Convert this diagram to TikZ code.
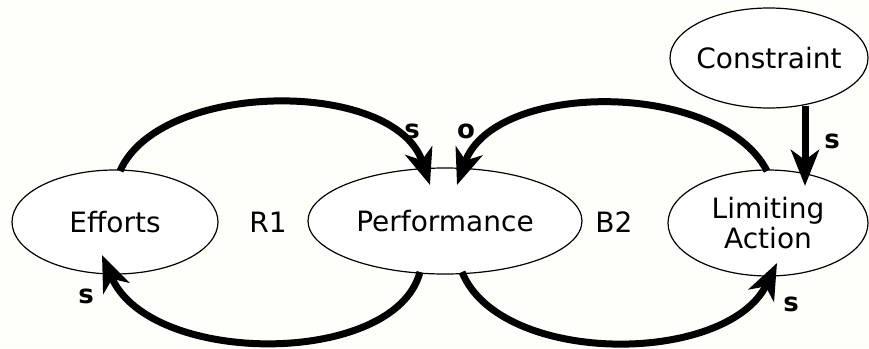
\documentclass[tikz,border=0pt]{standalone}
\usepackage{fontspec}
\setmainfont{DejaVu Sans}
\usetikzlibrary{shapes.geometric,arrows.meta,calc}
\definecolor{bgc}{HTML}{FEFEFB}
\begin{document}
\begin{tikzpicture}[x=1pt,y=-1pt,
  var/.style={draw=black,line width=1.2pt,fill=white,ellipse,inner sep=0pt},
  lbl/.style={font=\fontsize{28}{30}\selectfont},
  pol/.style={font=\fontsize{26}{28}\selectfont\bfseries},
  link/.style={line width=7pt,-{Stealth[length=36pt,width=28pt,inset=10pt]}}]
\fill[bgc] (0,0) rectangle (869,348);
\useasboundingbox (0,0) rectangle (869,348);
\node[var,minimum width=206pt,minimum height=104pt] (ef) at (115,222) {};
\node[lbl] at (ef.center) {Efforts};
\node[var,minimum width=274pt,minimum height=106pt] (pf) at (445,221) {};
\node[lbl] at (pf.center) {Performance};
\node[var,minimum width=200pt,minimum height=106pt] (la) at (768,223) {};
\node[lbl,align=center] at (la.center) {Limiting\\[0pt]Action};
\node[var,minimum width=198pt,minimum height=100pt] (co) at (769,58) {};
\node[lbl] at (co.center) {Constraint};
\node[lbl] (r1) at (268,222) {R1};
\node[lbl] (b2) at (614,222) {B2};
% tips and ends
\coordinate (e1) at (120,171);
\coordinate (t1) at (430,185);
\coordinate (p2) at (420,272);
\coordinate (t2) at (102,255);
\coordinate (l3) at (767,171);
\coordinate (t3) at (457,185);
\coordinate (p4) at (462,272);
\coordinate (t4) at (777,263);
\coordinate (c5) at (805,106);
\coordinate (t5) at (805,186);
\draw[link] (e1) .. controls (160,80) and (395,78) .. (t1);
\draw[link] (p2) .. controls (395,367) and (150,367) .. (t2);
\draw[link] (l3) .. controls (720,80) and (494,80) .. (t3);
\draw[link] (p4) .. controls (500,366) and (727,366) .. (t4);
\draw[link] (c5) -- (t5);
\node[pol] (s1) at (412,131) {s};
\node[pol] (o3) at (466,131) {o};
\node[pol] (s2) at (86,296) {s};
\node[pol] (s4) at (791,304) {s};
\node[pol] (s5) at (832,141) {s};
\end{tikzpicture}
\end{document}
